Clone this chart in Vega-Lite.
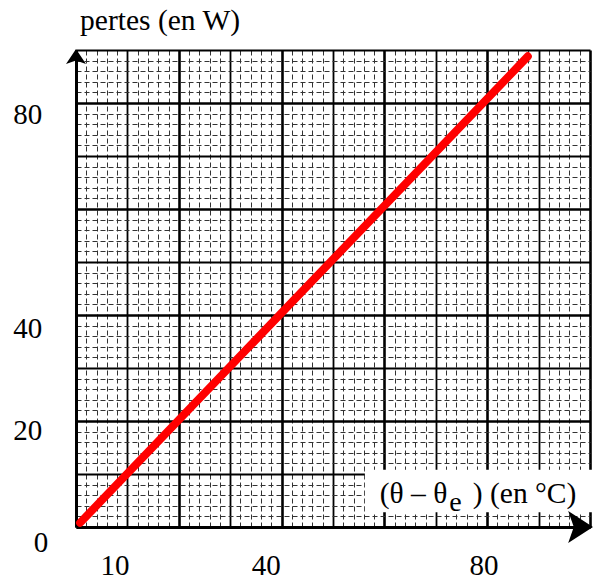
{
  "$schema": "https://vega.github.io/schema/vega-lite/v6.json",
  "width": 514,
  "height": 477,
  "autosize": "none",
  "padding": {"left": 76, "top": 50, "right": 7, "bottom": 53},
  "background": "white",
  "config": {"view": {"stroke": null}},
  "encoding": {
    "x": {
      "field": "x", "type": "quantitative",
      "scale": {"domain": [0, 100], "nice": false, "zero": false},
      "axis": {
        "title": null, "labels": false, "ticks": false,
        "domain": true, "domainColor": "black", "domainWidth": 3,
        "grid": true,
        "values": [0,2,4,6,8,10,12,14,16,18,20,22,24,26,28,30,32,34,36,38,40,42,44,46,48,50,52,54,56,58,60,62,64,66,68,70,72,74,76,78,80,82,84,86,88,90,92,94,96,98,100],
        "gridColor": {"condition": {"test": "datum.value % 10 == 0", "value": "#000"}, "value": "#333"},
        "gridWidth": {"condition": [{"test": "datum.value % 20 == 0", "value": 2.6}, {"test": "datum.value % 10 == 0", "value": 1.8}], "value": 1},
        "gridDash": {"condition": {"test": "datum.value % 10 == 0", "value": []}, "value": [5, 3]}
      }
    },
    "y": {
      "field": "y", "type": "quantitative",
      "scale": {"domain": [0, 90], "nice": false, "zero": false},
      "axis": {
        "title": null, "labels": false, "ticks": false,
        "domain": true, "domainColor": "black", "domainWidth": 3,
        "grid": true,
        "values": [0,2,4,6,8,10,12,14,16,18,20,22,24,26,28,30,32,34,36,38,40,42,44,46,48,50,52,54,56,58,60,62,64,66,68,70,72,74,76,78,80,82,84,86,88,90],
        "gridColor": {"condition": {"test": "datum.value % 10 == 0", "value": "#000"}, "value": "#333"},
        "gridWidth": {"condition": [{"test": "datum.value % 20 == 0", "value": 2.6}, {"test": "datum.value % 10 == 0", "value": 1.8}], "value": 1},
        "gridDash": {"condition": {"test": "datum.value % 10 == 0", "value": []}, "value": [5, 3]}
      }
    }
  },
  "layer": [
    {
      "data": {"values": [{"x": 56.2, "y": 2.8, "x2": 101.4, "y2": 10.8}]},
      "mark": {"type": "rect", "color": "white", "clip": false},
      "encoding": {"x2": {"field": "x2"}, "y2": {"field": "y2"}}
    },
    {
      "data": {"values": [{"x": 0.8, "y": 0.8}, {"x": 87.9, "y": 88.8}]},
      "mark": {"type": "line", "color": "#ff0000", "strokeWidth": 8, "strokeCap": "round"}
    },
    {
      "data": {"values": [{"x": 97.47, "y": 0}]},
      "mark": {"type": "point", "shape": "M1,0 L-0.55,-1 L-0.2,0 L-0.55,1 Z", "size": 1024, "filled": true, "color": "black", "opacity": 1, "strokeWidth": 0}
    },
    {
      "data": {"values": [{"x": 0, "y": 88.28}]},
      "mark": {"type": "point", "shape": "M0,-1 L1,0.5 L0,0.15 L-1,0.5 Z", "size": 400, "filled": true, "color": "black", "opacity": 1, "strokeWidth": 0}
    },
    {
      "data": {"values": [
        {"x": 7.6, "y": -9.1, "label": "10"},
        {"x": 37, "y": -9.1, "label": "40"},
        {"x": 79.4, "y": -9.1, "label": "80"},
        {"x": -6.8, "y": -4.7, "label": "0"},
        {"x": -9.4, "y": 76, "label": "80"},
        {"x": -9.4, "y": 35.7, "label": "40"},
        {"x": -9.4, "y": 16.4, "label": "20"}
      ]},
      "mark": {"type": "text", "font": "Liberation Serif", "fontSize": 29, "align": "center", "baseline": "alphabetic", "color": "black"},
      "encoding": {"text": {"field": "label"}}
    },
    {
      "data": {"values": [
        {"x": 0.8, "y": 93.8, "label": "pertes (en W)"},
        {"x": 59.1, "y": 4.5, "label": "(θ – θ"},
        {"x": 77.2, "y": 4.5, "label": ") (en °C)"}
      ]},
      "mark": {"type": "text", "font": "Liberation Serif", "fontSize": 29.5, "align": "left", "baseline": "alphabetic", "color": "black"},
      "encoding": {"text": {"field": "label"}}
    },
    {
      "data": {"values": [{"x": 72.6, "y": 3.0, "label": "e"}]},
      "mark": {"type": "text", "font": "Liberation Serif", "fontSize": 28, "align": "left", "baseline": "alphabetic", "color": "black"},
      "encoding": {"text": {"field": "label"}}
    }
  ]
}
